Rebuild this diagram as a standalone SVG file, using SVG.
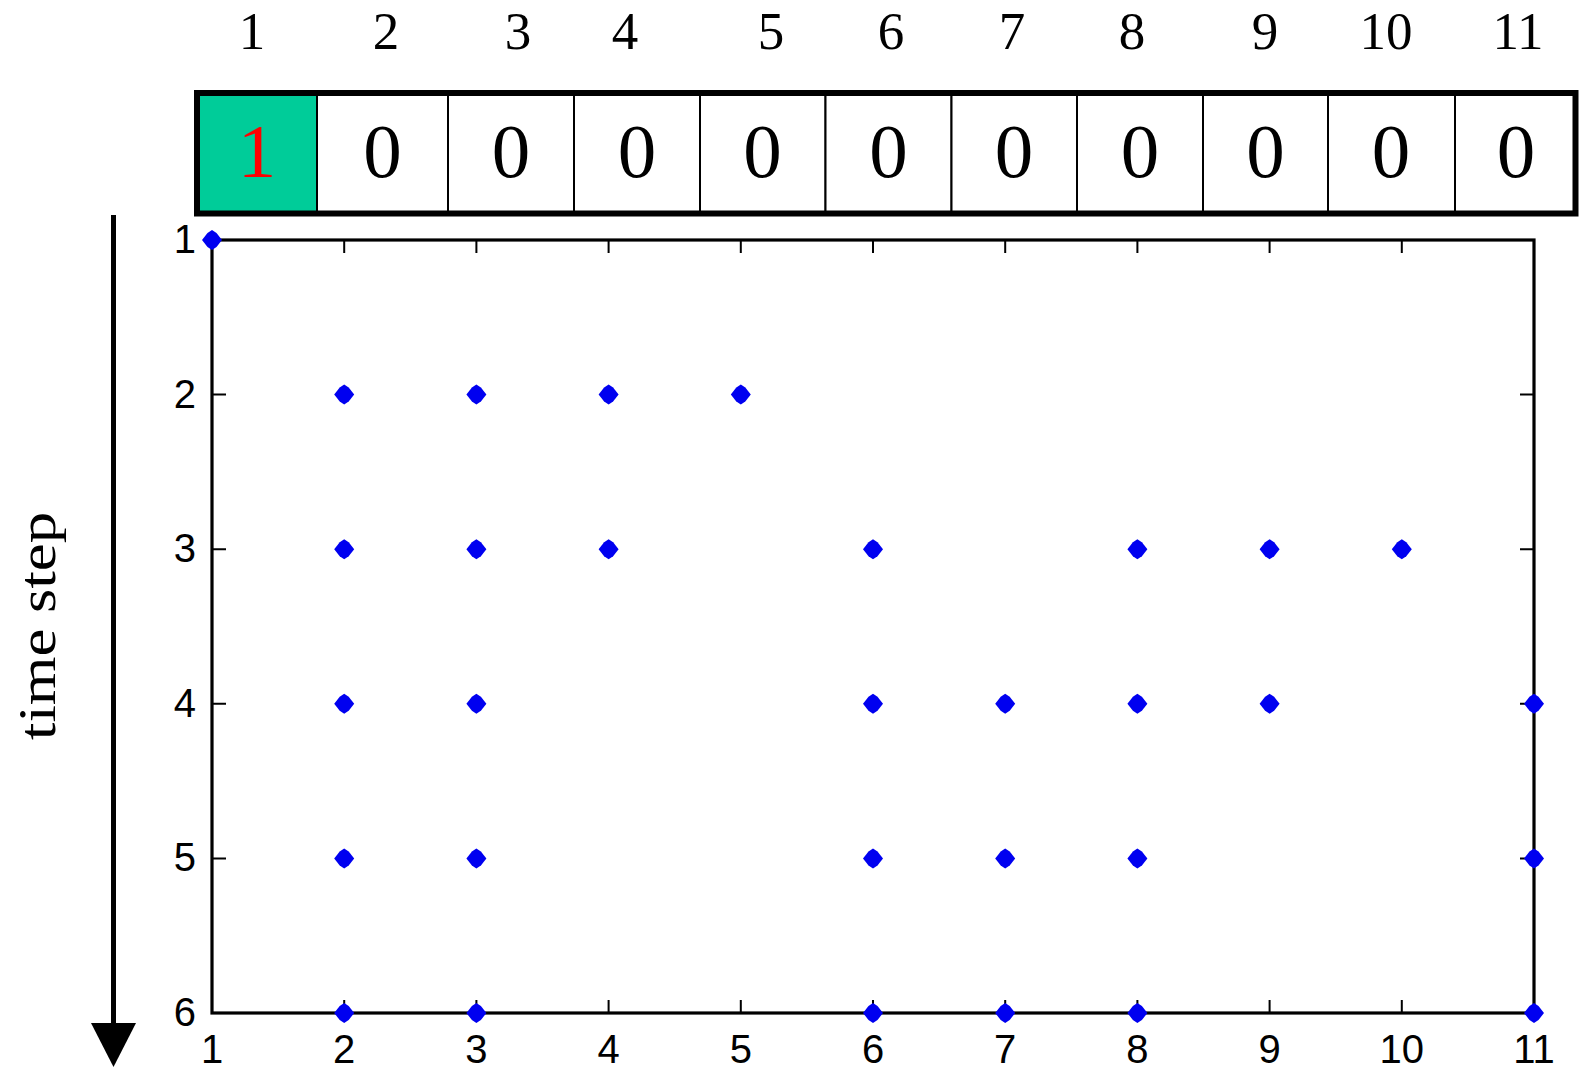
<svg xmlns="http://www.w3.org/2000/svg" width="1579" height="1069" viewBox="0 0 1579 1069">
<defs>
<style>
.hdr{font-family:"Liberation Serif","Times New Roman",serif;font-size:53px;fill:#000;text-anchor:middle}
.val{font-family:"Liberation Serif","Times New Roman",serif;font-size:77px;fill:#000;text-anchor:middle}
.tick{font-family:"Liberation Sans",Arial,sans-serif;font-size:40px;fill:#000}
.cell{fill:#fff;stroke:#000;stroke-width:2}
.axis{fill:none;stroke:#000;stroke-width:3.2}
.tk{stroke:#000;stroke-width:2}
.pt{fill:#0000f0}
</style>
<path id="dm" d="M0,-10 L4.5,-7 L10,0 L4.5,7 L0,10 L-4.5,7 L-10,0 L-4.5,-7 Z"/>
</defs>
<rect width="1579" height="1069" fill="#fff"/>

<g id="column-labels" class="hdr">
<text x="252" y="49">1</text>
<text x="386" y="49">2</text>
<text x="518" y="49">3</text>
<text x="625" y="49">4</text>
<text x="771" y="49">5</text>
<text x="891" y="49">6</text>
<text x="1012" y="49">7</text>
<text x="1132" y="49">8</text>
<text x="1265" y="49">9</text>
<text x="1386" y="49">10</text>
<text x="1518" y="49">11</text>
</g>

<g id="cells">
<g id="cell-1"><rect x="197" y="93" width="120" height="120.5" fill="#00cc99" stroke="#000" stroke-width="2"/><text class="val" x="257" y="177" style="fill:#ff0000">1</text></g>
<g id="cell-2"><rect class="cell" x="317" y="93" width="131" height="120.5"/><text class="val" x="382.5" y="177">0</text></g>
<g id="cell-3"><rect class="cell" x="448" y="93" width="126" height="120.5"/><text class="val" x="511" y="177">0</text></g>
<g id="cell-4"><rect class="cell" x="574" y="93" width="126" height="120.5"/><text class="val" x="637" y="177">0</text></g>
<g id="cell-5"><rect class="cell" x="700" y="93" width="125.5" height="120.5"/><text class="val" x="762.5" y="177">0</text></g>
<g id="cell-6"><rect class="cell" x="825.5" y="93" width="126" height="120.5"/><text class="val" x="888.5" y="177">0</text></g>
<g id="cell-7"><rect class="cell" x="951.5" y="93" width="125.5" height="120.5"/><text class="val" x="1014" y="177">0</text></g>
<g id="cell-8"><rect class="cell" x="1077" y="93" width="126" height="120.5"/><text class="val" x="1140" y="177">0</text></g>
<g id="cell-9"><rect class="cell" x="1203" y="93" width="125" height="120.5"/><text class="val" x="1265.5" y="177">0</text></g>
<g id="cell-10"><rect class="cell" x="1328" y="93" width="127" height="120.5"/><text class="val" x="1391" y="177">0</text></g>
<g id="cell-11"><rect class="cell" x="1455" y="93" width="120.5" height="120.5"/><text class="val" x="1516" y="177">0</text></g>
<rect x="197" y="93" width="1378.5" height="120.5" fill="none" stroke="#000" stroke-width="6"/>
</g>

<g id="plot">
<rect class="axis" x="212" y="240" width="1322" height="773"/>
<g id="ticks">
<path class="tk" d="M344.2,240v13M476.4,240v13M608.6,240v13M740.8,240v13M873,240v13M1005.2,240v13M1137.4,240v13M1269.6,240v13M1401.8,240v13"/>
<path class="tk" d="M344.2,1013v-13M476.4,1013v-13M608.6,1013v-13M740.8,1013v-13M873,1013v-13M1005.2,1013v-13M1137.4,1013v-13M1269.6,1013v-13M1401.8,1013v-13"/>
<path class="tk" d="M212,394.6h14M212,549.2h14M212,703.8h14M212,858.4h14"/>
<path class="tk" d="M1534,394.6h-14M1534,549.2h-14M1534,703.8h-14M1534,858.4h-14"/>
</g>
<g id="y-labels" class="tick" text-anchor="end">
<text x="196" y="253">1</text>
<text x="196" y="407.6">2</text>
<text x="196" y="562.2">3</text>
<text x="196" y="716.8">4</text>
<text x="196" y="871.4">5</text>
<text x="196" y="1026">6</text>
</g>
<g id="x-labels" class="tick" text-anchor="middle">
<text x="212" y="1063">1</text>
<text x="344.2" y="1063">2</text>
<text x="476.4" y="1063">3</text>
<text x="608.6" y="1063">4</text>
<text x="740.8" y="1063">5</text>
<text x="873" y="1063">6</text>
<text x="1005.2" y="1063">7</text>
<text x="1137.4" y="1063">8</text>
<text x="1269.6" y="1063">9</text>
<text x="1401.8" y="1063">10</text>
<text x="1534" y="1063">11</text>
</g>
<g id="points" class="pt">
<use href="#dm" x="212" y="240"/>
<use href="#dm" x="344.2" y="394.6"/><use href="#dm" x="476.4" y="394.6"/><use href="#dm" x="608.6" y="394.6"/><use href="#dm" x="740.8" y="394.6"/>
<use href="#dm" x="344.2" y="549.2"/><use href="#dm" x="476.4" y="549.2"/><use href="#dm" x="608.6" y="549.2"/><use href="#dm" x="873" y="549.2"/><use href="#dm" x="1137.4" y="549.2"/><use href="#dm" x="1269.6" y="549.2"/><use href="#dm" x="1401.8" y="549.2"/>
<use href="#dm" x="344.2" y="703.8"/><use href="#dm" x="476.4" y="703.8"/><use href="#dm" x="873" y="703.8"/><use href="#dm" x="1005.2" y="703.8"/><use href="#dm" x="1137.4" y="703.8"/><use href="#dm" x="1269.6" y="703.8"/><use href="#dm" x="1534" y="703.8"/>
<use href="#dm" x="344.2" y="858.4"/><use href="#dm" x="476.4" y="858.4"/><use href="#dm" x="873" y="858.4"/><use href="#dm" x="1005.2" y="858.4"/><use href="#dm" x="1137.4" y="858.4"/><use href="#dm" x="1534" y="858.4"/>
<use href="#dm" x="344.2" y="1013"/><use href="#dm" x="476.4" y="1013"/><use href="#dm" x="873" y="1013"/><use href="#dm" x="1005.2" y="1013"/><use href="#dm" x="1137.4" y="1013"/><use href="#dm" x="1534" y="1013"/>
</g>
</g>

<g id="connectors">
<line x1="113.5" y1="215" x2="113.5" y2="1026" stroke="#000" stroke-width="5"/>
<polygon points="91,1023 136,1023 113.5,1067" fill="#000"/>
</g>

<g id="time-step-label">
<text transform="translate(55,626) rotate(-90)" font-family="'Liberation Serif','Times New Roman',serif" font-size="52" text-anchor="middle" textLength="228" lengthAdjust="spacingAndGlyphs">time step</text>
</g>
</svg>
